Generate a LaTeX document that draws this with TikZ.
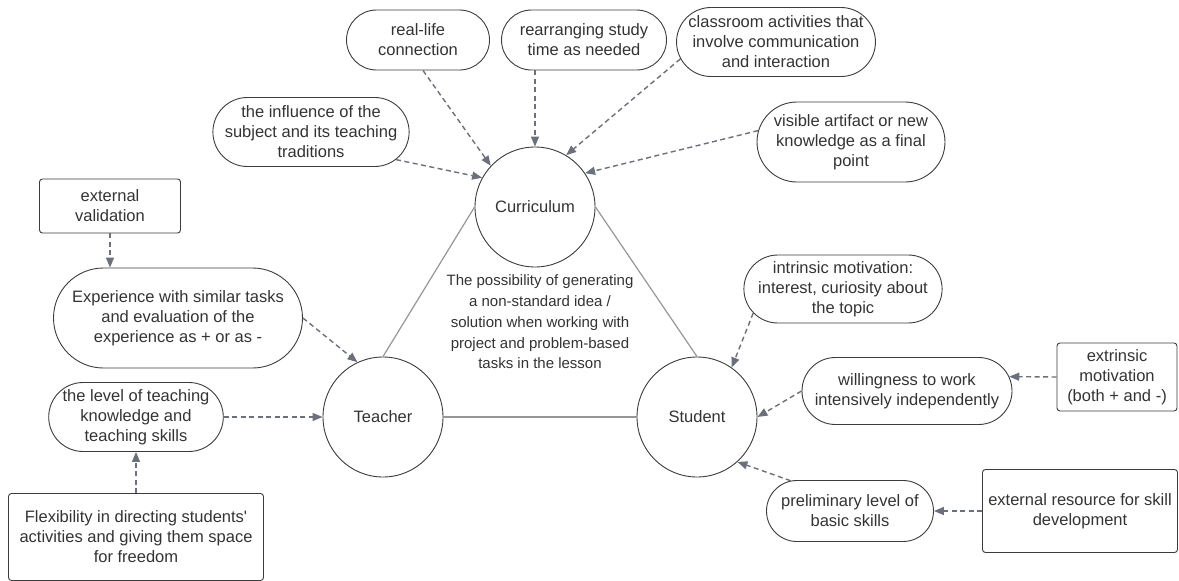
\documentclass[tikz,border=0pt]{standalone}
\usepackage{fontspec}
\setmainfont{Liberation Sans}
\usetikzlibrary{arrows.meta,shapes.misc}

\definecolor{boxline}{RGB}{60,60,60}
\definecolor{arrowgray}{RGB}{108,112,124}
\definecolor{edgegray}{RGB}{150,150,150}
\definecolor{txtgray}{RGB}{51,51,51}

\begin{document}
\begin{tikzpicture}[
  x=1pt, y=-1pt,
  >={Triangle[length=10pt,width=8pt]},
  every node/.style={font=\fontsize{16.5}{20}\selectfont, text=txtgray},
  hub/.style={circle, draw=boxline, line width=0.9pt, minimum size=120pt, inner sep=0pt},
  pill/.style={rounded rectangle, draw=boxline, line width=0.9pt, align=center, inner sep=0pt},
  rbox/.style={rectangle, rounded corners=3pt, draw=boxline, line width=0.9pt, align=center, inner sep=0pt},
  dep/.style={->, draw=arrowgray, line width=1.4pt, dash pattern=on 5pt off 3.5pt},
  side/.style={draw=edgegray, line width=1.2pt}
]
\useasboundingbox (0,0) rectangle (1179,581);
\node[hub] (cur) at (535,207) {Curriculum};
\node[hub] (tch) at (383,417) {Teacher};
\node[hub] (stu) at (697,417) {Student};
\node[align=center, font=\fontsize{15}{20.7}\selectfont] (idea) at (540,322) {The possibility of generating\\a non-standard idea /\\solution when working with\\project and problem-based\\tasks in the lesson};
\node[pill, minimum width=143pt, minimum height=60pt] (rl) at (418,40) {real-life\\connection};
\node[pill, minimum width=165pt, minimum height=60pt] (rs) at (584,40) {rearranging study\\time as needed};
\node[pill, minimum width=188pt, minimum height=69pt] (ca) at (776,42) {classroom activities that\\involve communication\\and interaction};
\node[pill, minimum width=187pt, minimum height=69pt] (inf) at (311,132) {the influence of the\\subject and its teaching\\traditions};
\node[pill, minimum width=188pt, minimum height=80pt] (vis) at (851,142) {visible artifact or new\\knowledge as a final\\point};
\node[rbox, minimum width=141pt, minimum height=54pt] (ev) at (110,206) {external\\validation};
\node[pill, minimum width=249pt, minimum height=100pt] (exp) at (178,318) {Experience with similar tasks\\and evaluation of the\\experience as + or as -};
\node[pill, minimum width=165pt, minimum height=69pt] (lvl) at (136,417) {the level of teaching\\knowledge and\\teaching skills};
\node[rbox, minimum width=255pt, minimum height=87pt] (flex) at (136,537) {Flexibility in directing students\textquotesingle\\activities and giving them space\\for freedom};
\node[pill, minimum width=197pt, minimum height=68pt] (im) at (843,289) {intrinsic motivation:\\interest, curiosity about\\the topic};
\node[pill, minimum width=210pt, minimum height=67pt] (wl) at (907,391) {willingness to work\\intensively independently};
\node[rbox, minimum width=120pt, minimum height=68pt] (em) at (1117,377) {extrinsic\\motivation\\(both + and -)};
\node[pill, minimum width=167pt, minimum height=61pt] (pl) at (850,511) {preliminary level of\\basic skills};
\node[rbox, minimum width=195pt, minimum height=83pt] (er) at (1080,511) {external resource for skill\\development};
\draw[side] (cur.west) -- (tch.north);
\draw[side] (cur.east) -- (stu.north);
\draw[side] (tch.east) -- (stu.west);
\draw[dep] ([xshift=5pt]rl.south) -- (cur.137);
\draw[dep] (rs.south -| cur.north) -- (cur.north);
\draw[dep] (ca.190) -- (cur.59);
\draw[dep] (inf.-18) -- (cur.151);
\draw[dep] (vis.173) -- (cur.34);
\draw[dep] (ev.south) -- (ev.south |- exp.north);
\draw[dep] (exp.east) -- (tch.115);
\draw[dep] (lvl.east) -- (tch.west);
\draw[dep] (flex.north) -- (lvl.south);
\draw[dep] (im.195) -- (stu.55);
\draw[dep] (wl.west) -- (stu.east);
\draw[dep] (em.west) -- (wl.8);
\draw[dep] (er.west) -- (pl.east);
\draw[dep] (pl.153) -- (stu.-48);
\end{tikzpicture}
\end{document}
